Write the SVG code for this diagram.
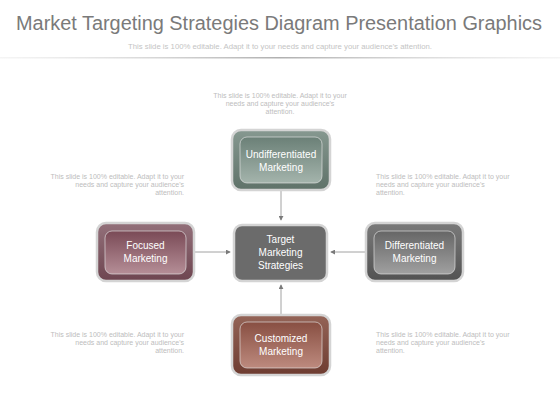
<svg xmlns="http://www.w3.org/2000/svg" width="560" height="420" viewBox="0 0 560 420">
<defs>
<style>
.title{font-family:"Liberation Sans",Arial,sans-serif;font-size:20px;fill:#7a7a7a}
.sub{font-family:"Liberation Sans",Arial,sans-serif;font-size:7.4px;fill:#c4c4c4}
.note{font-family:"Liberation Sans",Arial,sans-serif;font-size:7px;fill:#bdbdbd}
.lbl{font-family:"Liberation Sans",Arial,sans-serif;font-size:10px;fill:#ffffff;text-anchor:middle}
.outer{stroke:#d4d4d4;stroke-width:2.5}
.inner{stroke:#e6e6e6;stroke-width:0.8;stroke-opacity:0.8}
.conn{stroke:#8a8a8a;stroke-width:0.8;fill:none;marker-end:url(#ah)}
</style>
<marker id="ah" viewBox="0 0 6 6" refX="5" refY="3" markerWidth="5" markerHeight="5" orient="auto" markerUnits="userSpaceOnUse">
<path d="M0,0 L6,3 L0,6 z" fill="#7a7a7a"/>
</marker>
<linearGradient id="hl" x1="0" y1="0" x2="1" y2="0">
<stop offset="0" stop-color="#dddddd" stop-opacity="0.3"/>
<stop offset="0.5" stop-color="#b0b0b0"/>
<stop offset="1" stop-color="#dddddd" stop-opacity="0.3"/>
</linearGradient>
<linearGradient id="gO" x1="0" y1="0" x2="0" y2="1"><stop offset="0" stop-color="#869890"/><stop offset="1" stop-color="#5f7269"/></linearGradient>
<linearGradient id="gI" x1="0" y1="0" x2="0" y2="1"><stop offset="0" stop-color="#6b8077"/><stop offset="1" stop-color="#a4b4ac"/></linearGradient>
<linearGradient id="mO" x1="0" y1="0" x2="0" y2="1"><stop offset="0" stop-color="#93707a"/><stop offset="1" stop-color="#6e4550"/></linearGradient>
<linearGradient id="mI" x1="0" y1="0" x2="0" y2="1"><stop offset="0" stop-color="#7a4a56"/><stop offset="1" stop-color="#b58e97"/></linearGradient>
<linearGradient id="kO" x1="0" y1="0" x2="0" y2="1"><stop offset="0" stop-color="#7a7a7a"/><stop offset="1" stop-color="#525252"/></linearGradient>
<linearGradient id="kI" x1="0" y1="0" x2="0" y2="1"><stop offset="0" stop-color="#666666"/><stop offset="1" stop-color="#a0a0a0"/></linearGradient>
<linearGradient id="bO" x1="0" y1="0" x2="0" y2="1"><stop offset="0" stop-color="#946457"/><stop offset="1" stop-color="#6e3c31"/></linearGradient>
<linearGradient id="bI" x1="0" y1="0" x2="0" y2="1"><stop offset="0" stop-color="#884f42"/><stop offset="1" stop-color="#bd8a7e"/></linearGradient>
</defs>
<rect width="560" height="420" fill="#ffffff"/>
<text class="title" x="279" y="30" text-anchor="middle" textLength="526" lengthAdjust="spacingAndGlyphs">Market Targeting Strategies Diagram Presentation Graphics</text>
<text class="sub" x="280" y="48.5" text-anchor="middle" textLength="304" lengthAdjust="spacingAndGlyphs">This slide is 100% editable. Adapt it to your needs and capture your audience's attention.</text>
<rect x="0" y="57" width="560" height="1.5" fill="url(#hl)"/>

<g id="notes">
<text class="note" x="280" y="98" text-anchor="middle">This slide is 100% editable. Adapt it to your</text>
<text class="note" x="280" y="106" text-anchor="middle">needs and capture your audience's</text>
<text class="note" x="280" y="114" text-anchor="middle">attention.</text>
<text class="note" x="184" y="179" text-anchor="end">This slide is 100% editable. Adapt it to your</text>
<text class="note" x="184" y="187" text-anchor="end">needs and capture your audience's</text>
<text class="note" x="184" y="195" text-anchor="end">attention.</text>
<text class="note" x="376" y="179">This slide is 100% editable. Adapt it to your</text>
<text class="note" x="376" y="187">needs and capture your audience's</text>
<text class="note" x="376" y="195">attention.</text>
<text class="note" x="184" y="337" text-anchor="end">This slide is 100% editable. Adapt it to your</text>
<text class="note" x="184" y="345" text-anchor="end">needs and capture your audience's</text>
<text class="note" x="184" y="353" text-anchor="end">attention.</text>
<text class="note" x="376" y="337">This slide is 100% editable. Adapt it to your</text>
<text class="note" x="376" y="345">needs and capture your audience's</text>
<text class="note" x="376" y="353">attention.</text>
</g>

<g id="connectors">
<path class="conn" d="M281,190 L281,220"/>
<path class="conn" d="M194,252 L230,252"/>
<path class="conn" d="M365,252 L331,252"/>
<path class="conn" d="M281,315 L281,285"/>
</g>

<g id="undifferentiated">
<rect class="outer" x="232" y="130" width="98" height="60" rx="9" fill="url(#gO)"/>
<rect class="inner" x="240" y="137" width="82" height="46" rx="7" fill="url(#gI)"/>
<text class="lbl" x="281" y="158">Undifferentiated</text>
<text class="lbl" x="281" y="171">Marketing</text>
</g>

<g id="target">
<rect class="outer" x="234" y="225" width="93" height="56" rx="8" fill="#6b6b6b"/>
<text class="lbl" x="280.5" y="243">Target</text>
<text class="lbl" x="280.5" y="256">Marketing</text>
<text class="lbl" x="280.5" y="269">Strategies</text>
</g>

<g id="focused">
<rect class="outer" x="97" y="223" width="97" height="58" rx="9" fill="url(#mO)"/>
<rect class="inner" x="105" y="231" width="81" height="43" rx="7" fill="url(#mI)"/>
<text class="lbl" x="145.5" y="249">Focused</text>
<text class="lbl" x="145.5" y="262">Marketing</text>
</g>

<g id="differentiated">
<rect class="outer" x="366" y="223" width="97" height="58" rx="9" fill="url(#kO)"/>
<rect class="inner" x="374" y="231" width="81" height="43" rx="7" fill="url(#kI)"/>
<text class="lbl" x="414.5" y="249">Differentiated</text>
<text class="lbl" x="414.5" y="262">Marketing</text>
</g>

<g id="customized">
<rect class="outer" x="232" y="315" width="98" height="60" rx="9" fill="url(#bO)"/>
<rect class="inner" x="240" y="322" width="82" height="46" rx="7" fill="url(#bI)"/>
<text class="lbl" x="281" y="342">Customized</text>
<text class="lbl" x="281" y="355">Marketing</text>
</g>
</svg>
